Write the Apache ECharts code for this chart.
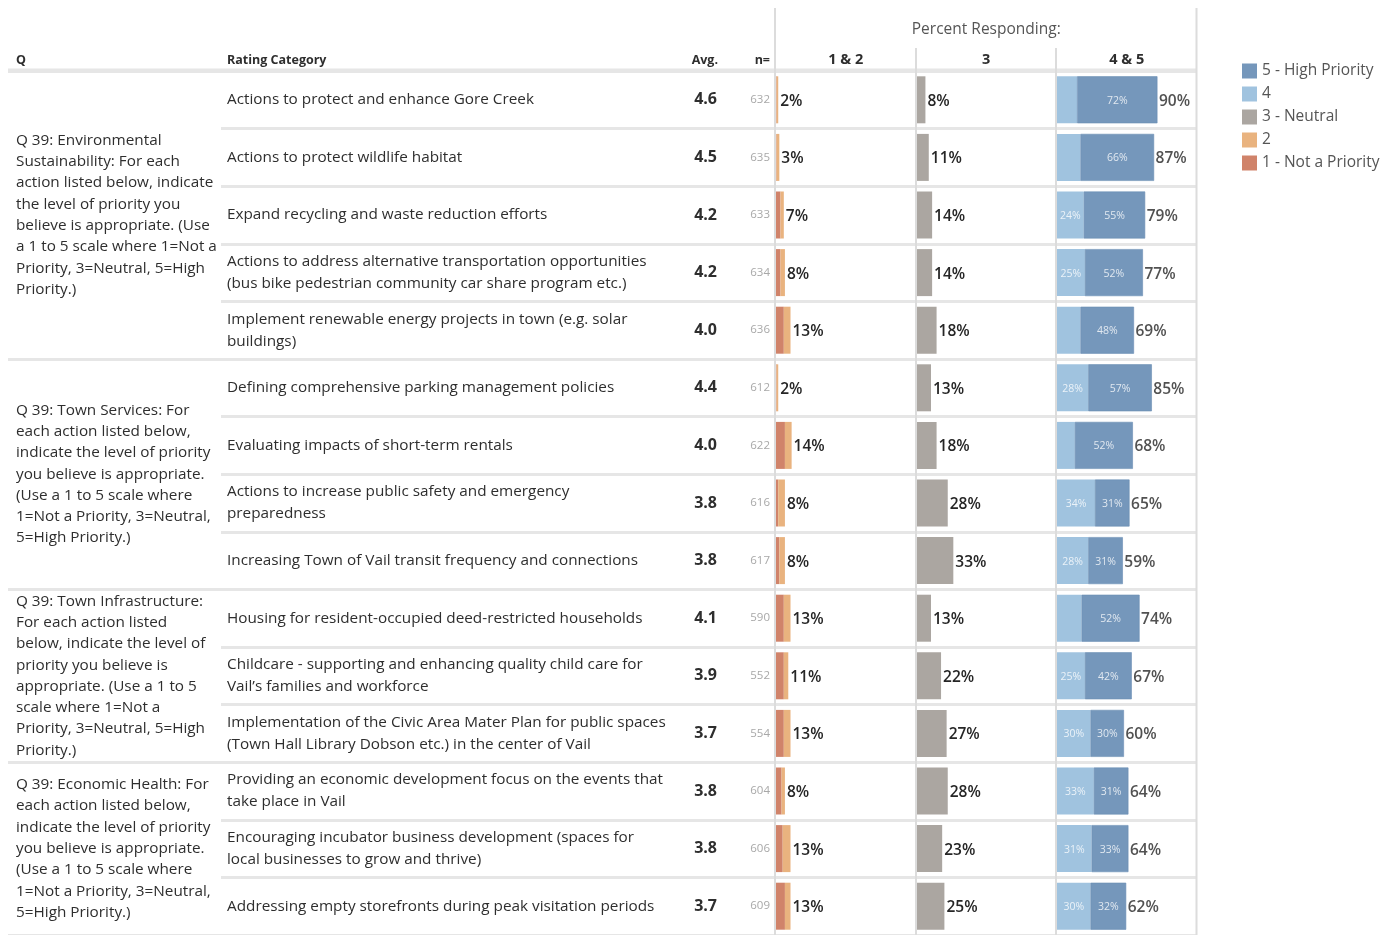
<!DOCTYPE html>
<html><head><meta charset="utf-8">
<script src="https://cdn.jsdelivr.net/npm/echarts@6/dist/echarts.min.js"></script>
<style>html,body{margin:0;padding:0;background:#fff}#c{width:1393px;height:935px}</style>
</head><body><div id="c"></div>
<script>
const categories = [
  "Actions to protect and enhance Gore Creek",
  "Actions to protect wildlife habitat",
  "Expand recycling and waste reduction efforts",
  "Actions to address alternative transportation opportunities\n(bus bike pedestrian community car share program etc.)",
  "Implement renewable energy projects in town (e.g. solar\nbuildings)",
  "Defining comprehensive parking management policies",
  "Evaluating impacts of short-term rentals",
  "Actions to increase public safety and emergency\npreparedness",
  "Increasing Town of Vail transit frequency and connections",
  "Housing for resident-occupied deed-restricted households",
  "Childcare - supporting and enhancing quality child care for\nVail’s families and workforce",
  "Implementation of the Civic Area Mater Plan for public spaces\n(Town Hall Library Dobson etc.) in the center of Vail",
  "Providing an economic development focus on the events that\ntake place in Vail",
  "Encouraging incubator business development (spaces for\nlocal businesses to grow and thrive)",
  "Addressing empty storefronts during peak visitation periods"
];
const groups = [
  "Q 39: Environmental\nSustainability: For each\naction listed below, indicate\nthe level of priority you\nbelieve is appropriate. (Use\na 1 to 5 scale where 1=Not a\nPriority, 3=Neutral, 5=High\nPriority.)",
  "Q 39: Town Services: For\neach action listed below,\nindicate the level of priority\nyou believe is appropriate.\n(Use a 1 to 5 scale where\n1=Not a Priority, 3=Neutral,\n5=High Priority.)",
  "Q 39: Town Infrastructure:\nFor each action listed\nbelow, indicate the level of\npriority you believe is\nappropriate. (Use a 1 to 5\nscale where 1=Not a\nPriority, 3=Neutral, 5=High\nPriority.)",
  "Q 39: Economic Health: For\neach action listed below,\nindicate the level of priority\nyou believe is appropriate.\n(Use a 1 to 5 scale where\n1=Not a Priority, 3=Neutral,\n5=High Priority.)"
];
const groupStart = [0, 5, 9, 12];
const groupSize = [5, 4, 3, 3];
const avg = [4.6,4.5,4.2,4.2,4.0,4.4,4.0,3.8,3.8,4.1,3.9,3.7,3.8,3.8,3.7];
const nResp = [632,635,633,634,636,612,622,616,617,590,552,554,604,606,609];
const s1 = [0.5,0.5,4,4,7,0.5,8,2,3,7,7,7,5,6,8];
const s2 = [1.5,2.5,3,4,6,1.5,6,6,5,6,4,6,3,7,5];
const t12 = [2,3,7,8,13,2,14,8,8,13,11,13,8,13,13];
const s3 = [8,11,14,14,18,13,18,28,33,13,22,27,28,23,25];
const s4 = [18,21,24,25,21,28,16,34,28,22,25,30,33,31,30];
const s5 = [72,66,55,52,48,57,52,31,31,52,42,30,31,33,32];
const t45 = [90,87,79,77,69,85,68,65,59,74,67,60,64,64,62];
const panelTitles = ["1 & 2", "3", "4 & 5"];
const legendNames = ["5 - High Priority","4","3 - Neutral","2","1 - Not a Priority"];

const C1 = '#D0836A', C2 = '#E9B37F', C3 = '#ABA6A1', C4 = '#A0C3DF', C5 = '#7597BB';
const FONT = 'Open Sans';
const TXT = '#2E2E2E';
const TOP = 71, ROWH = 58, NROW = categories.length, H = ROWH * NROW;
const PANEL_L = [776, 916.5, 1057], PANEL_W = 139.5, XMAX = 125;
const BW = 47;
const LINE = '#E6E6E6';
const PADT = [4, 0, 0, 0];

const chart = echarts.init(document.getElementById('c'), null, {renderer: 'canvas'});
const isGroupStart = new Set(groupStart);

function catAxis(grid, extra) {
  return Object.assign({
    type: 'category', gridIndex: grid, data: categories, inverse: true, position: 'left', offset: 0,
    axisLine: {show: false}, axisTick: {show: false}, axisLabel: {show: false},
    splitLine: {show: false}
  }, extra || {});
}
const valAxis = g => ({type: 'value', gridIndex: g, min: 0, max: XMAX, show: false});

const grids = [
  {left: PANEL_L[0], top: TOP, width: PANEL_W, height: H},
  {left: PANEL_L[1], top: TOP, width: PANEL_W, height: H},
  {left: PANEL_L[2], top: TOP, width: PANEL_W, height: H},
  {left: 8, top: TOP, width: 1188, height: H},
  {left: 221, top: TOP, width: 975, height: H}
];

const totalLabel = {show: true, position: 'right', distance: 2, offset: [0, 1.5], color: '#262626', fontSize: 15.5, fontFamily: FONT, fontWeight: 600};
const innerLabel = {
  show: true, position: 'inside', offset: [0, 1], color: 'rgba(255,255,255,0.78)', fontSize: 10.5, fontFamily: FONT,
  formatter: p => (p.value >= 23 ? p.value + '%' : '')
};

const option = {
  animation: false,
  textStyle: {fontFamily: FONT},
  grid: grids,
  xAxis: [valAxis(0), valAxis(1), valAxis(2), valAxis(3), valAxis(4)],
  yAxis: [
    catAxis(0, {axisLabel: {show: true, align: 'left', margin: PANEL_L[0] - 227, color: TXT, fontSize: 15.3, lineHeight: 22, padding: PADT, fontFamily: FONT}}),
    catAxis(0, {axisLabel: {show: true, align: 'right', margin: PANEL_L[0] - 717, color: TXT, fontSize: 16, fontWeight: 'bold', padding: PADT, fontFamily: FONT, formatter: (v, i) => avg[i].toFixed(1)}}),
    catAxis(0, {axisLabel: {show: true, align: 'right', margin: 6, color: '#A8A8A8', fontSize: 11.5, padding: PADT, fontFamily: FONT, width: 40, formatter: (v, i) => String(nResp[i])}}),
    catAxis(1),
    catAxis(2),
    catAxis(3, {splitLine: {show: true, lineStyle: {color: LINE, width: 3}, interval: (i) => isGroupStart.has(i)}}),
    catAxis(4, {splitLine: {show: true, lineStyle: {color: LINE, width: 3}}})
  ],
  legend: {
    data: legendNames, orient: 'vertical', left: 1237, top: 58, icon: 'rect',
    itemWidth: 15, itemHeight: 15, itemGap: 7,
    itemStyle: {borderWidth: 0},
    textStyle: {fontSize: 15.5, color: '#555', fontFamily: FONT},
    selectedMode: false
  },
  series: [
    {name: '1 - Not a Priority', type: 'bar', xAxisIndex: 0, yAxisIndex: 0, stack: 'low', barWidth: BW, data: s1, itemStyle: {color: C1}},
    {name: '2', type: 'bar', xAxisIndex: 0, yAxisIndex: 0, stack: 'low', barWidth: BW, data: s2, itemStyle: {color: C2},
      label: Object.assign({}, totalLabel, {formatter: p => t12[p.dataIndex] + '%'})},
    {name: '3 - Neutral', type: 'bar', xAxisIndex: 1, yAxisIndex: 3, barWidth: BW, data: s3, itemStyle: {color: C3},
      label: Object.assign({}, totalLabel, {formatter: p => p.value + '%'})},
    {name: '4', type: 'bar', xAxisIndex: 2, yAxisIndex: 4, stack: 'high', barWidth: BW, data: s4, itemStyle: {color: C4}, label: innerLabel},
    {name: '5 - High Priority', type: 'bar', xAxisIndex: 2, yAxisIndex: 4, stack: 'high', barWidth: BW, data: s5, itemStyle: {color: C5, borderColor: '#6A8DB3', borderWidth: 0.6}, label: innerLabel},
    {name: 'total45', type: 'scatter', xAxisIndex: 2, yAxisIndex: 4, symbolSize: 1, itemStyle: {color: 'transparent'},
      data: t45.map((v, i) => [v, i]),
      label: Object.assign({}, totalLabel, {distance: 1, formatter: p => p.value[0] + '%'})}
  ]
};
chart.setOption(option);

// header + Q group text + vertical rules
const g = [];
const headerY = 60;
const hdr = (text, x, align, size) => ({type: 'text', x, y: headerY, style: {text, align: align || 'left', verticalAlign: 'middle', font: 'bold ' + (size || 12.5) + 'px "' + FONT + '"', fill: TXT}});
g.push(hdr('Q', 16));
g.push(hdr('Rating Category', 227));
g.push(hdr('Avg.', 718, 'right'));
g.push(hdr('n=', 770, 'right'));
panelTitles.forEach((t, i) => g.push(hdr(t, PANEL_L[i] + PANEL_W / 2, 'center', 14.5)));
g.push({type: 'text', x: (PANEL_L[0] + PANEL_L[2] + PANEL_W) / 2, y: 30, style: {text: 'Percent Responding:', align: 'center', verticalAlign: 'middle', font: '15.5px "' + FONT + '"', fill: '#555'}});
// header underline
g.push({type: 'line', shape: {x1: 8, y1: TOP - 1, x2: 1196, y2: TOP - 1}, style: {stroke: LINE, lineWidth: 3}, z: -1});
// vertical lines
const vx = [PANEL_L[0] - 1, PANEL_L[1] - 0.5, PANEL_L[2] - 1, PANEL_L[2] + PANEL_W];
vx.forEach((x, i) => g.push({type: 'line', shape: {x1: x, y1: (i === 0 || i === 3) ? 8 : 48, x2: x, y2: 935}, style: {stroke: '#DCDCDC', lineWidth: 2}, z: 5}));
// Q group texts centered on their rows
groups.forEach((txt, k) => {
  const a = chart.convertToPixel({yAxisIndex: 0}, groupStart[k]);
  const b = chart.convertToPixel({yAxisIndex: 0}, groupStart[k] + groupSize[k] - 1);
  g.push({type: 'text', x: 16, y: (a + b) / 2, style: {text: txt, align: 'left', verticalAlign: 'middle', font: '15.3px "' + FONT + '"', lineHeight: 21.3, fill: TXT}});
});
chart.setOption({graphic: g});
</script></body></html>
